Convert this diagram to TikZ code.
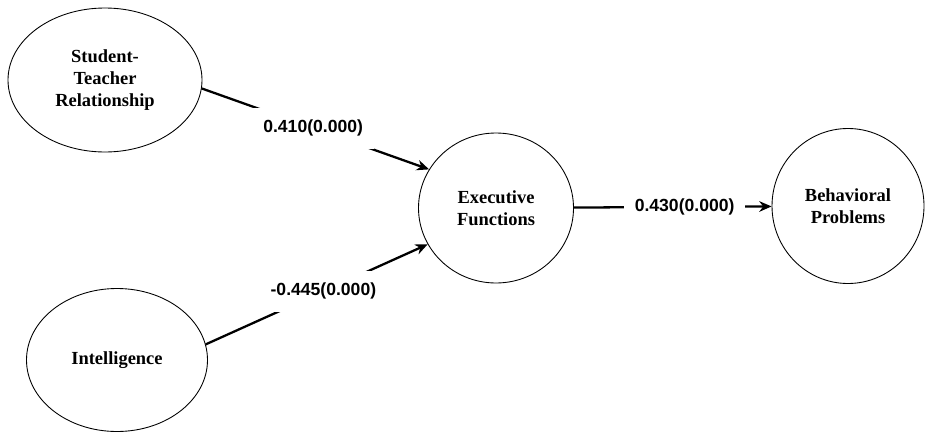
\documentclass[tikz,border=0pt]{standalone}
\usepackage{fontspec}
\setmainfont{Liberation Serif}
\newfontfamily\coeffont{Liberation Sans}
\usetikzlibrary{shapes.geometric, arrows.meta, positioning}

\begin{document}
\begin{tikzpicture}[>={Stealth[length=7pt,width=6pt]},
    latent/.style={draw, ellipse, line width=0.5pt, inner sep=0pt, align=center,
        font=\fontsize{10.5}{12.5}\selectfont\bfseries},
    coef/.style={fill=white, inner xsep=6pt, inner ysep=7pt, font=\coeffont\fontsize{10}{12}\selectfont\bfseries},
    path/.style={line width=1.3pt, ->}]
    \useasboundingbox (0,0) rectangle (19,-8.66);

    \node[latent, minimum width=3.88cm, minimum height=2.88cm] (stu) at (2.10,-1.60) {Student-\\Teacher\\Relationship};
    \node[latent, minimum width=3.62cm, minimum height=2.86cm] (intel) at (2.34,-7.20) {Intelligence};
    \node[latent, minimum width=3.10cm, minimum height=3.00cm] (exec) at (9.92,-4.16) {Executive\\Functions};
    \node[latent, minimum width=3.04cm, minimum height=3.10cm] (behav) at (16.96,-4.12) {Behavioral\\Problems};

    \draw[path] (stu.-5) -- node[coef, pos=0.49] {0.410(0.000)} (exec.150);
    \draw[path] (intel.10) -- node[coef, pos=0.53] {-0.445(0.000)} (exec.208);
    \draw[path] (exec) -- node[coef, pos=0.56] {0.430(0.000)} (behav);
\end{tikzpicture}
\end{document}
